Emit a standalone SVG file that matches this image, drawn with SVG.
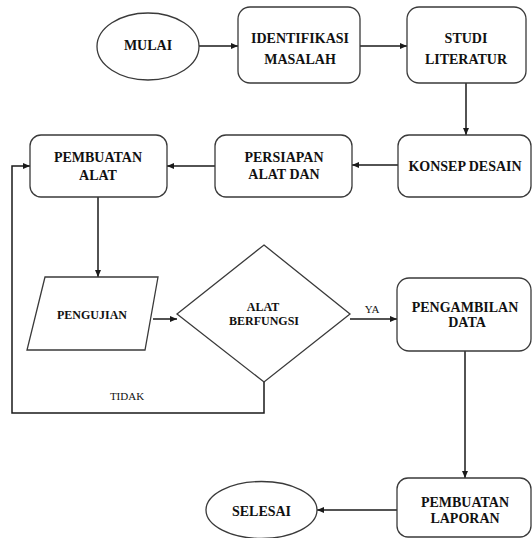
<svg xmlns="http://www.w3.org/2000/svg" width="532" height="538" viewBox="0 0 532 538">
<style>
.n{fill:#fff;stroke:#3a3a3a;stroke-width:1.3}
.t{font-family:'Liberation Serif','Times New Roman',Times,serif;font-weight:700;font-size:14px;fill:#111;text-anchor:middle}
.s{font-size:12px}
.l{font-family:'Liberation Serif','Times New Roman',Times,serif;font-size:11px;fill:#111;text-anchor:middle}
.c{fill:none;stroke:#1a1a1a;stroke-width:1.5}
</style>
<defs>
<marker id="a" markerUnits="userSpaceOnUse" markerWidth="8" markerHeight="6" refX="7" refY="3" orient="auto">
<path d="M0,0 L7,3 L0,6 z" fill="#1a1a1a"/>
</marker>
</defs>
<rect width="532" height="538" fill="#fff"/>
<g id="connectors">
<line class="c" x1="199" y1="46" x2="238" y2="46" marker-end="url(#a)"/>
<line class="c" x1="360" y1="46" x2="407" y2="46" marker-end="url(#a)"/>
<line class="c" x1="466" y1="83" x2="466" y2="135" marker-end="url(#a)"/>
<line class="c" x1="398" y1="165" x2="352" y2="165" marker-end="url(#a)"/>
<line class="c" x1="215" y1="166" x2="167" y2="166" marker-end="url(#a)"/>
<line class="c" x1="98" y1="197" x2="98" y2="277" marker-end="url(#a)"/>
<line class="c" x1="153" y1="319" x2="177" y2="319" marker-end="url(#a)"/>
<line class="c" x1="350" y1="319" x2="397" y2="319" marker-end="url(#a)"/>
<polyline class="c" points="264,382 264,413 12,413 12,166 30,166" marker-end="url(#a)"/>
<line class="c" x1="465" y1="351" x2="465" y2="478" marker-end="url(#a)"/>
<line class="c" x1="397" y1="510" x2="317" y2="510" marker-end="url(#a)"/>
<text class="l" x="372" y="313">YA</text>
<text class="l" x="127" y="400">TIDAK</text>
</g>
<g id="mulai">
<ellipse class="n" cx="148" cy="46.5" rx="51" ry="33.5"/>
<text class="t" x="148" y="50">MULAI</text>
</g>
<g id="identifikasi">
<rect class="n" x="238" y="7" width="122" height="76" rx="12"/>
<text class="t" x="300" y="43">IDENTIFIKASI</text>
<text class="t" x="300" y="64">MASALAH</text>
</g>
<g id="studi">
<rect class="n" x="407" y="7" width="119" height="76" rx="12"/>
<text class="t" x="466" y="43">STUDI</text>
<text class="t" x="466" y="64">LITERATUR</text>
</g>
<g id="konsep">
<rect class="n" x="398" y="135" width="133" height="62" rx="11"/>
<text class="t" x="465" y="171">KONSEP DESAIN</text>
</g>
<g id="persiapan">
<rect class="n" x="215" y="135" width="137" height="62" rx="11"/>
<text class="t" x="284" y="162">PERSIAPAN</text>
<text class="t" x="284" y="179">ALAT DAN</text>
</g>
<g id="pembuatan-alat">
<rect class="n" x="30" y="135" width="137" height="62" rx="11"/>
<text class="t" x="98" y="162">PEMBUATAN</text>
<text class="t" x="98" y="180">ALAT</text>
</g>
<g id="pengujian">
<polygon class="n" points="45,277 158,277 145,350 27,350"/>
<text class="t s" x="92" y="319">PENGUJIAN</text>
</g>
<g id="alat-berfungsi">
<polygon class="n" points="264,245 350,314 264,382 177,314"/>
<text class="t s" x="263" y="311">ALAT</text>
<text class="t s" x="264" y="325">BERFUNGSI</text>
</g>
<g id="pengambilan">
<rect class="n" x="397" y="278" width="134" height="73" rx="12"/>
<text class="t" x="465" y="312">PENGAMBILAN</text>
<text class="t" x="467" y="327">DATA</text>
</g>
<g id="laporan">
<rect class="n" x="397" y="478" width="134" height="59" rx="11"/>
<text class="t" x="465" y="507">PEMBUATAN</text>
<text class="t" x="465" y="523">LAPORAN</text>
</g>
<g id="selesai">
<ellipse class="n" cx="261.5" cy="510" rx="55.5" ry="28.5"/>
<text class="t" x="261.5" y="516">SELESAI</text>
</g>
</svg>
